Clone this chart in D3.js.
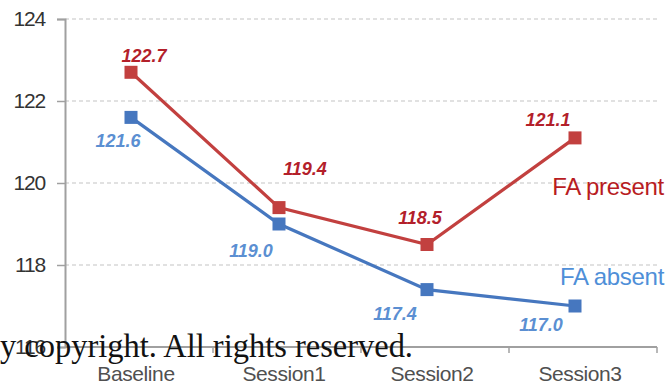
<!DOCTYPE html>
<html>
<head>
<meta charset="utf-8">
<script src="https://cdn.jsdelivr.net/npm/d3@7"></script>
<style>
  html, body { margin: 0; padding: 0; background: #fff; }
  svg { display: block; }
</style>
</head>
<body>
<svg id="chart" width="671" height="387"></svg>
<script>
// Sessions along the x axis
const categories = ["Baseline", "Session1", "Session2", "Session3"];
// Mean values per group
const faPresent = [122.7, 119.4, 118.5, 121.1];
const faAbsent  = [121.6, 119.0, 117.4, 117.0];
// Y axis ticks
const yTicks = [116, 118, 120, 122, 124];

// Label placement relative to each point (layout only)
const presentLabelOffset = [[13, -10], [26, -33], [-7, -21], [-27, -12]];
const absentLabelOffset  = [[-13, 30], [-28, 33], [-32, 30], [-34, 25]];

const svg = d3.select("#chart");
const plotLeft = 65, plotRight = 657, plotTop = 19, plotBottom = 347;

const x = d3.scaleBand().domain(categories).range([plotLeft, plotRight]);
const y = d3.scaleLinear().domain([116, 124]).range([plotBottom, plotTop]);

// dashed horizontal gridlines
svg.append("g").selectAll("line")
  .data(yTicks.filter(t => t !== 116))
  .join("line")
  .attr("x1", plotLeft).attr("x2", plotRight)
  .attr("y1", d => y(d)).attr("y2", d => y(d))
  .attr("stroke", "#c4c4c4").attr("stroke-width", 1.2)
  .attr("stroke-dasharray", "4,3");

// y axis
const yAxis = svg.append("g")
  .attr("transform", `translate(${plotLeft},0)`)
  .call(d3.axisLeft(y).tickValues(yTicks).tickSize(8).tickPadding(12).tickFormat(d3.format("d")));
yAxis.select(".domain").attr("stroke", "#a0a0a0").attr("stroke-width", 2);
yAxis.selectAll(".tick line").attr("stroke", "#a0a0a0").attr("stroke-width", 1.5);
yAxis.selectAll(".tick text")
  .attr("font-family", "Liberation Sans, Arial, sans-serif")
  .attr("font-size", 21).attr("fill", "#333").attr("letter-spacing", -1.2);

// x axis with ticks on band boundaries
const xAxisG = svg.append("g").attr("transform", `translate(0,${plotBottom})`);
xAxisG.append("line")
  .attr("x1", plotLeft).attr("x2", plotRight)
  .attr("stroke", "#a0a0a0").attr("stroke-width", 2);
xAxisG.selectAll("line.tk")
  .data(categories.slice(1).concat(["__end"]))
  .join("line").attr("class", "tk")
  .attr("x1", d => d === "__end" ? plotRight : x(d))
  .attr("x2", d => d === "__end" ? plotRight : x(d))
  .attr("y1", 0).attr("y2", 6)
  .attr("stroke", "#a0a0a0").attr("stroke-width", 1.5);
xAxisG.selectAll("text")
  .data(categories)
  .join("text")
  .attr("x", d => x(d) + x.bandwidth() / 2 - 3)
  .attr("y", 34)
  .attr("text-anchor", "middle")
  .attr("font-family", "Liberation Sans, Arial, sans-serif")
  .attr("font-size", 21).attr("fill", "#505050")
  .attr("letter-spacing", -0.4)
  .text(d => d);

const cx = d => x(d) + x.bandwidth() / 2 - 8;
const line = d3.line().x((d, i) => cx(categories[i])).y(d => y(d));

function drawSeries(values, lineColor, labelColor, offsets) {
  svg.append("path")
    .datum(values)
    .attr("d", line)
    .attr("fill", "none")
    .attr("stroke", lineColor)
    .attr("stroke-width", 3.2);
  svg.append("g").selectAll("rect")
    .data(values)
    .join("rect")
    .attr("x", (d, i) => cx(categories[i]) - 6.5)
    .attr("y", d => y(d) - 6.5)
    .attr("width", 13).attr("height", 13)
    .attr("fill", lineColor);
  svg.append("g").selectAll("text")
    .data(values)
    .join("text")
    .attr("x", (d, i) => cx(categories[i]) + offsets[i][0])
    .attr("y", (d, i) => y(d) + offsets[i][1])
    .attr("text-anchor", "middle")
    .attr("font-family", "Liberation Sans, Arial, sans-serif")
    .attr("font-size", 18).attr("font-weight", "bold").attr("font-style", "italic")
    .attr("fill", labelColor)
    .text(d => d.toFixed(1));
}

drawSeries(faAbsent, "#4677bf", "#5b8fd2", absentLabelOffset);
drawSeries(faPresent, "#c2403f", "#b3202a", presentLabelOffset);

// series names at the right edge
svg.append("text")
  .attr("x", 664).attr("y", 195)
  .attr("text-anchor", "end")
  .attr("font-family", "Liberation Sans, Arial, sans-serif")
  .attr("font-size", 24).attr("fill", "#b81c22")
  .attr("letter-spacing", -0.3)
  .text("FA present");
svg.append("text")
  .attr("x", 664).attr("y", 285)
  .attr("text-anchor", "end")
  .attr("font-family", "Liberation Sans, Arial, sans-serif")
  .attr("font-size", 24).attr("fill", "#4f8fd8")
  .attr("letter-spacing", -0.3)
  .text("FA absent");

// copyright notice across the lower part
svg.append("text")
  .attr("x", 0).attr("y", 357)
  .attr("font-family", "Liberation Serif, 'DejaVu Serif', serif")
  .attr("font-size", 34).attr("fill", "#111")
  .attr("textLength", 413).attr("lengthAdjust", "spacingAndGlyphs")
  .text("y copyright. All rights reserved.");
</script>
</body>
</html>
